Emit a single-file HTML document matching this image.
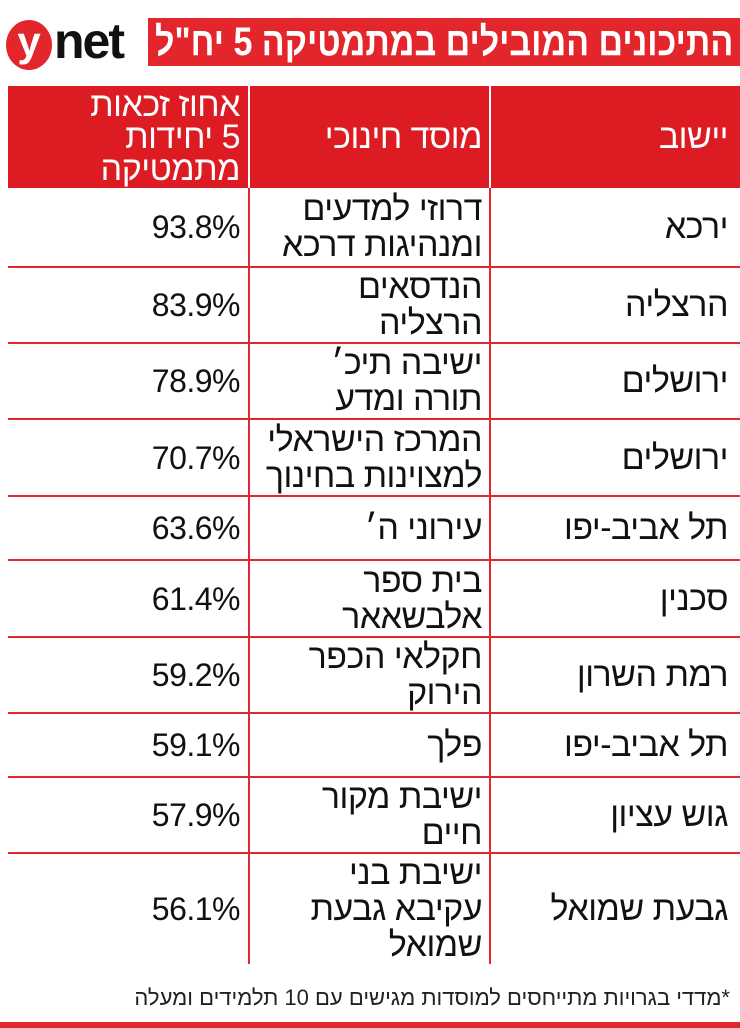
<!DOCTYPE html>
<html><head><meta charset="utf-8"><style>
body{margin:0;width:740px;height:1028px;background:#fff;position:relative;overflow:hidden;font-family:"Liberation Sans","DejaVu Sans",sans-serif;}
.abs{position:absolute}
.cell{position:absolute;display:flex;flex-direction:column;justify-content:center;align-items:flex-end;direction:ltr;font-size:34px;line-height:36px;color:#111;letter-spacing:-0.5px}
.cell span{direction:rtl;white-space:nowrap;display:block;text-align:right}
.num{font-size:32px}
.hl{position:absolute;left:8px;width:732px;height:2px;background:#e3262b}
.vl{position:absolute;width:2px;background:#e3262b}
</style></head><body>
<div class="abs" style="left:6px;top:20px;width:46px;height:50px;border-radius:50%;background:#e3262b;color:#fff;font-weight:bold;font-size:42px;line-height:44px;text-align:center">y</div>
<div class="abs" style="left:54px;top:14px;font-size:50px;font-weight:bold;color:#111;letter-spacing:-2px;line-height:54px">net</div>
<div class="abs" style="left:148px;top:18px;width:592px;height:48px;background:#e3262b"></div>
<div class="abs" style="right:7px;top:18px;height:48px;line-height:48px;color:#fff;font-weight:bold;font-size:40px;direction:rtl;white-space:nowrap"><span style="display:inline-block;transform:scaleX(0.85);transform-origin:right center">התיכונים המובילים במתמטיקה 5 יח"ל</span></div>
<div class="abs" style="left:8px;top:86px;width:732px;height:102px;background:#dc1c22"></div>
<div class="abs" style="left:248px;top:86px;width:2px;height:102px;background:#fff"></div>
<div class="abs" style="left:489px;top:86px;width:2px;height:102px;background:#fff"></div>
<div class="cell" style="left:500px;width:228px;top:86px;height:102px;color:#fff"><span>יישוב</span></div>
<div class="cell" style="left:258px;width:224px;top:86px;height:102px;color:#fff"><span>מוסד חינוכי</span></div>
<div class="cell" style="left:14px;width:226px;top:86px;height:102px;color:#fff;line-height:32px"><span>אחוז זכאות</span><span>5 יחידות</span><span>מתמטיקה</span></div>
<div class="vl" style="left:248px;top:188px;height:776px"></div>
<div class="vl" style="left:489px;top:188px;height:776px"></div>
<div class="hl" style="top:266px"></div><div class="hl" style="top:342px"></div><div class="hl" style="top:418px"></div><div class="hl" style="top:495px"></div><div class="hl" style="top:559px"></div><div class="hl" style="top:636px"></div><div class="hl" style="top:712px"></div><div class="hl" style="top:776px"></div><div class="hl" style="top:852px"></div>

<div class="cell" style="left:500px;width:228px;top:188px;height:78px"><span>ירכא</span></div>
<div class="cell" style="left:258px;width:224px;top:188px;height:78px"><span>דרוזי למדעים</span><span>ומנהיגות דרכא</span></div>
<div class="cell num" style="left:14px;width:226px;top:188px;height:78px"><span>93.8%</span></div>

<div class="cell" style="left:500px;width:228px;top:268px;height:74px"><span>הרצליה</span></div>
<div class="cell" style="left:258px;width:224px;top:268px;height:74px"><span>הנדסאים</span><span>הרצליה</span></div>
<div class="cell num" style="left:14px;width:226px;top:268px;height:74px"><span>83.9%</span></div>

<div class="cell" style="left:500px;width:228px;top:344px;height:74px"><span>ירושלים</span></div>
<div class="cell" style="left:258px;width:224px;top:344px;height:74px"><span>ישיבה תיכ׳</span><span>תורה ומדע</span></div>
<div class="cell num" style="left:14px;width:226px;top:344px;height:74px"><span>78.9%</span></div>

<div class="cell" style="left:500px;width:228px;top:420px;height:75px"><span>ירושלים</span></div>
<div class="cell" style="left:258px;width:224px;top:420px;height:75px"><span>המרכז הישראלי</span><span>למצוינות בחינוך</span></div>
<div class="cell num" style="left:14px;width:226px;top:420px;height:75px"><span>70.7%</span></div>

<div class="cell" style="left:500px;width:228px;top:497px;height:62px"><span>תל אביב-יפו</span></div>
<div class="cell" style="left:258px;width:224px;top:497px;height:62px"><span>עירוני ה׳</span></div>
<div class="cell num" style="left:14px;width:226px;top:497px;height:62px"><span>63.6%</span></div>

<div class="cell" style="left:500px;width:228px;top:561px;height:75px"><span>סכנין</span></div>
<div class="cell" style="left:258px;width:224px;top:561px;height:75px"><span>בית ספר</span><span>אלבשאאר</span></div>
<div class="cell num" style="left:14px;width:226px;top:561px;height:75px"><span>61.4%</span></div>

<div class="cell" style="left:500px;width:228px;top:638px;height:74px"><span>רמת השרון</span></div>
<div class="cell" style="left:258px;width:224px;top:638px;height:74px"><span>חקלאי הכפר</span><span>הירוק</span></div>
<div class="cell num" style="left:14px;width:226px;top:638px;height:74px"><span>59.2%</span></div>

<div class="cell" style="left:500px;width:228px;top:714px;height:62px"><span>תל אביב-יפו</span></div>
<div class="cell" style="left:258px;width:224px;top:714px;height:62px"><span>פלך</span></div>
<div class="cell num" style="left:14px;width:226px;top:714px;height:62px"><span>59.1%</span></div>

<div class="cell" style="left:500px;width:228px;top:778px;height:74px"><span>גוש עציון</span></div>
<div class="cell" style="left:258px;width:224px;top:778px;height:74px"><span>ישיבת מקור</span><span>חיים</span></div>
<div class="cell num" style="left:14px;width:226px;top:778px;height:74px"><span>57.9%</span></div>

<div class="cell" style="left:500px;width:228px;top:854px;height:110px"><span>גבעת שמואל</span></div>
<div class="cell" style="left:258px;width:224px;top:854px;height:110px"><span>ישיבת בני</span><span>עקיבא גבעת</span><span>שמואל</span></div>
<div class="cell num" style="left:14px;width:226px;top:854px;height:110px"><span>56.1%</span></div>

<div class="abs" style="right:10px;top:985px;font-size:22px;color:#222;direction:rtl;white-space:nowrap">*מדדי בגרויות מתייחסים למוסדות מגישים עם 10 תלמידים ומעלה</div>
<div class="abs" style="left:0;top:1022px;width:740px;height:6px;background:#e3262b"></div>
</body></html>
